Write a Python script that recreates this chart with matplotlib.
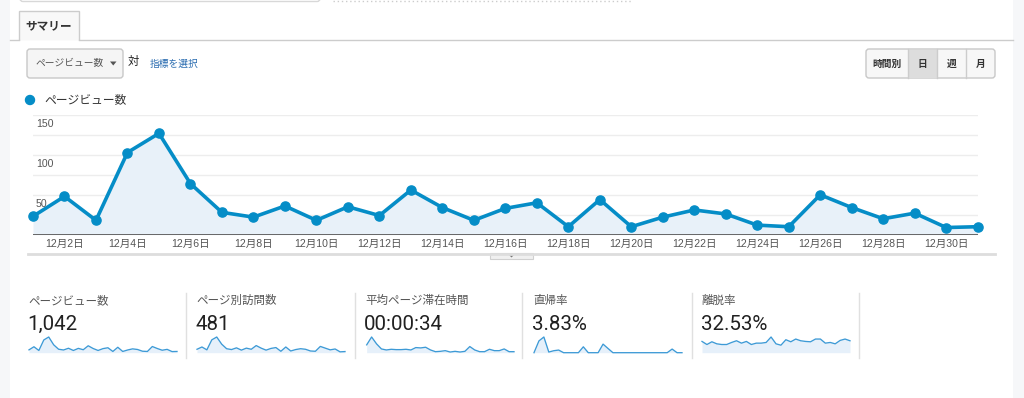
import matplotlib
matplotlib.use("Agg")
import matplotlib.pyplot as plt
from matplotlib.patches import Rectangle, FancyBboxPatch, Circle, Polygon
from matplotlib.transforms import offset_copy
import numpy as np

W, H = 1024, 398

# ---------------- data ----------------
days = list(range(1, 32))
pageviews = [23, 48, 18, 103, 127, 64, 28, 22, 36, 18, 35, 24, 56, 34, 18, 33,
             40, 10, 44, 10, 22, 31, 26, 12, 10, 50, 34, 20, 27, 9, 10]
unique_pageviews = [12, 20, 10, 45, 55, 30, 14, 11, 17, 9, 16, 12, 25, 16, 9, 15,
                    18, 5, 20, 6, 11, 14, 12, 6, 5, 22, 16, 10, 13, 3, 4]
avg_time_sec = [46, 92, 52, 22, 16, 20, 18, 18, 20, 16, 30, 28, 32, 16, 6, 8,
                12, 4, 8, 4, 8, 36, 16, 6, 6, 20, 12, 12, 22, 6, 6]
entrance_rate = [0, 25, 33.3, 1.4, 4.2, 5.6, 0, 0, 0, 0, 12.5, 0, 0, 0, 18.2, 9,
                 0, 0, 0, 0, 0, 0, 0, 0, 0, 0, 0, 0, 7.7, 0, 0]
exit_rate = [33, 24, 32, 26, 24, 24, 30, 35, 28, 33, 24, 28, 28, 30, 46, 26,
             22, 38, 32, 40, 35, 33, 32, 40, 40, 28, 30, 26, 36, 40, 35]

y_ticks = [50, 100, 150]
grid_values = [25, 50, 75, 100, 125, 150]
x_tick_days = list(range(2, 31, 2))
x_tick_labels = [f"12月{d}日" for d in x_tick_days]

card_titles = ["ページビュー数", "ページ別訪問数", "平均ページ滞在時間", "直帰率", "離脱率"]
card_values = ["1,042", "481", "00:00:34", "3.83%", "32.53%"]
card_series = [pageviews, unique_pageviews, avg_time_sec, entrance_rate, exit_rate]

buttons = ["時間別", "日", "週", "月"]

# ---------------- style ----------------
JP = ['Noto Sans CJK JP', 'DejaVu Sans']
NUM = ['Roboto', 'DejaVu Sans']
AX = ['Liberation Sans', 'Noto Sans CJK JP', 'DejaVu Sans']
plt.rcParams['font.family'] = JP

BLUE = '#058dc7'
FILL = '#e8f1f9'
SPARK = '#3d9ad6'

fig = plt.figure(figsize=(W / 100, H / 100), dpi=100)
fig.patch.set_facecolor('white')


def rect(x0, y0, x1, y1):
    return [x0 / W, 1 - y1 / H, (x1 - x0) / W, (y1 - y0) / H]


bg = fig.add_axes([0, 0, 1, 1])
bg.set_xlim(0, W)
bg.set_ylim(H, 0)
bg.axis('off')

# side page background
bg.add_patch(Rectangle((0, 0), 10, H, color='#f6f7f9', lw=0))
bg.add_patch(Rectangle((1013, 0), W - 1013, H, color='#f6f7f9', lw=0))

# top remnants
bg.add_patch(FancyBboxPatch((20, -20), 300, 21.5, boxstyle='round,pad=0,rounding_size=3',
                            fc='white', ec='#d8d8d8', lw=1))
bg.plot([333, 632], [1, 1], color='#cccccc', lw=1, ls=(0, (1, 2)))

# tab
bg.plot([10, 19], [39.5, 39.5], color='#cccccc', lw=1)
bg.plot([79, 1013], [39.5, 39.5], color='#cccccc', lw=1)
bg.add_patch(Polygon([(19, 39.5), (19, 11), (79, 11), (79, 39.5)], closed=False,
                     fc='#f8f8f8', ec='#cccccc', lw=1))
bg.text(49, 25.5, "サマリー", ha='center', va='center', fontsize=8.4, fontweight='bold',
        color='#333333')

# dropdown
bg.add_patch(FancyBboxPatch((27, 49), 96, 29, boxstyle='round,pad=0,rounding_size=3',
                            fc='#f5f5f5', ec='#c8c8c8', lw=1))
bg.text(35, 63.5, "ページビュー数", ha='left', va='center', fontsize=7, color='#555555')
bg.add_patch(Polygon([(110, 61.5), (116.5, 61.5), (113.25, 65.5)], closed=True,
                     fc='#555555', ec='none'))
bg.text(128, 61, "対", ha='left', va='center', fontsize=8.2, color='#222222')
bg.text(150, 64, "指標を選択", ha='left', va='center', fontsize=7, color='#2a6cb0')

# buttons
bx = [866, 908, 937, 966, 995]
bg.add_patch(FancyBboxPatch((866, 49), 129, 29, boxstyle='round,pad=0,rounding_size=3',
                            fc='#f7f7f7', ec='#c8c8c8', lw=1))
bg.add_patch(Rectangle((908, 49.5), 29, 28, fc='#dddddd', ec='none'))
for xs in bx[1:-1]:
    bg.plot([xs, xs], [49, 78], color='#cccccc', lw=1)
for i, lab in enumerate(buttons):
    bg.text((bx[i] + bx[i + 1]) / 2, 63.5, lab, ha='center', va='center', fontsize=7,
            fontweight='bold', color='#333333')

# legend
bg.add_patch(Circle((30, 100), 4.5, color=BLUE))
bg.text(44, 100, "ページビュー数", ha='left', va='center', fontsize=8.5, color='#333333')

# ---------------- main chart ----------------
ax = fig.add_axes(rect(33, 115, 977.7, 234.7))
ax.set_xlim(0, len(days) - 1)
ax.set_ylim(0, 150)
for s in ax.spines.values():
    s.set_visible(False)
ax.patch.set_alpha(0)
for v in grid_values:
    ax.axhline(v, color='#ededed', lw=1, zorder=0)
x = np.arange(len(days))
ax.fill_between(x, pageviews, 0, color=FILL, lw=0, zorder=1)
ax.axhline(0, color='#666666', lw=1.4, zorder=2)
ax.plot(x, pageviews, color=BLUE, lw=2.6, marker='o', ms=6.6, zorder=3, clip_on=False)
ax.set_yticks([])
ax.set_xticks([days.index(d) for d in x_tick_days])
ax.set_xticklabels(x_tick_labels, family=AX)
ax.tick_params(axis='x', length=0, pad=3.0, labelsize=7.6, labelcolor='#555555')
tr = offset_copy(ax.transData, fig=fig, x=3.0, y=-9, units='dots')
for v in y_ticks:
    ax.text(0, v, str(v), transform=tr, ha='left', va='center', fontsize=7.6,
            color='#555555', family=AX)

# under-chart divider and handle
bg.plot([28, 995], [253.5, 253.5], color='#dddddd', lw=2)
bg.add_patch(Rectangle((490, 253), 43, 6, fc='#f0f0f0', ec='#d0d0d0', lw=0.8))
bg.add_patch(Polygon([(509, 255), (514, 255), (511.5, 257.5)], closed=True,
                     fc='#777777', ec='none'))

# ---------------- scorecards ----------------
for xs in [186, 355, 522, 692, 859]:
    bg.plot([xs, xs], [293, 358], color='#e0e0e0', lw=1)

card_x = [28, 196, 365, 533, 702]
spark_x = [(29, 177), (197, 345), (366.7, 514), (534, 682), (702, 850)]
for i in range(5):
    bg.text(card_x[i], 300.5, card_titles[i], ha='left', va='center', fontsize=8.3,
            color='#555555')
    bg.text(card_x[i] - 1, 324, card_values[i], ha='left', va='center', fontsize=14.8,
            color='#212121', family=NUM)
    sx0, sx1 = spark_x[i]
    sa = fig.add_axes(rect(sx0, 337, sx1, 352.7))
    vals = card_series[i]
    sa.set_xlim(0, len(vals) - 1)
    sa.set_ylim(0, max(vals))
    sa.axis('off')
    sa.fill_between(np.arange(len(vals)), vals, 0, color='#e6f0fa', lw=0)
    sa.plot(np.arange(len(vals)), vals, color=SPARK, lw=0.95, clip_on=False)

fig.savefig('out.png', dpi=100, facecolor='white')
